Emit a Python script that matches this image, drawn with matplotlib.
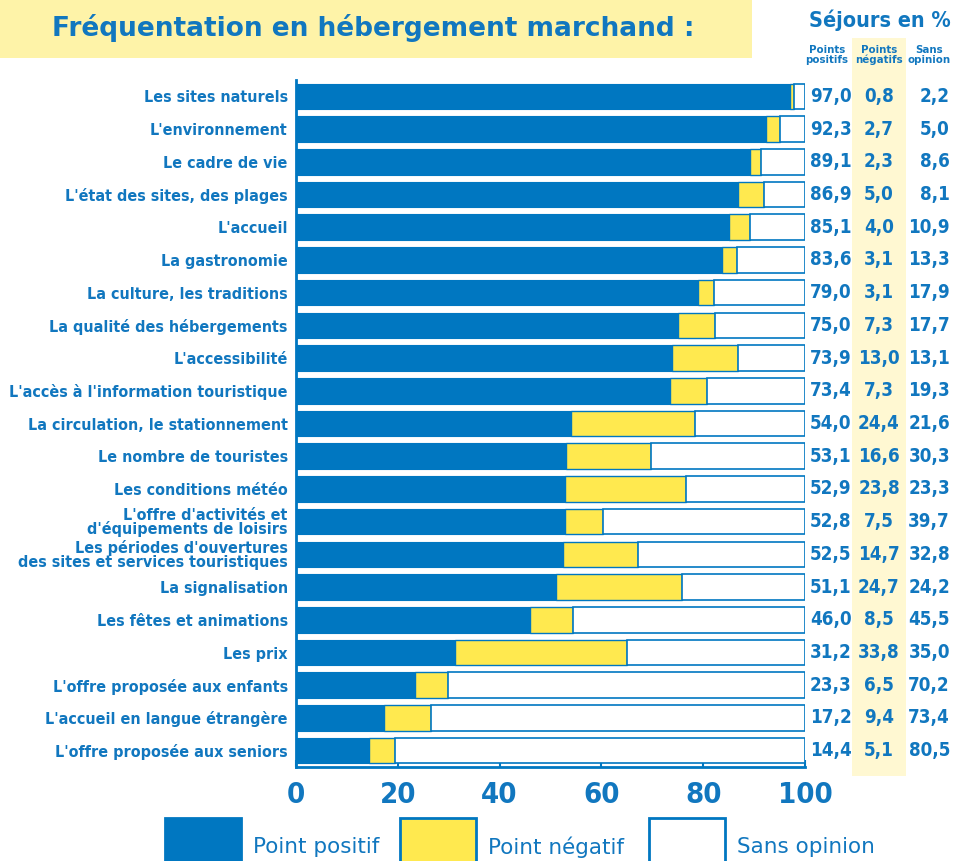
import matplotlib
matplotlib.use("Agg")
import matplotlib.pyplot as plt
from matplotlib.patches import Rectangle
from matplotlib.transforms import blended_transform_factory
import numpy as np

categories = [
    "Les sites naturels", "L'environnement", "Le cadre de vie",
    "L'état des sites, des plages", "L'accueil", "La gastronomie",
    "La culture, les traditions", "La qualité des hébergements",
    "L'accessibilité", "L'accès à l'information touristique",
    "La circulation, le stationnement", "Le nombre de touristes",
    "Les conditions météo", "L'offre d'activités et\nd'équipements de loisirs",
    "Les périodes d'ouvertures\ndes sites et services touristiques",
    "La signalisation", "Les fêtes et animations", "Les prix",
    "L'offre proposée aux enfants", "L'accueil en langue étrangère",
    "L'offre proposée aux seniors",
]
positifs = [97.0, 92.3, 89.1, 86.9, 85.1, 83.6, 79.0, 75.0, 73.9, 73.4, 54.0,
            53.1, 52.9, 52.8, 52.5, 51.1, 46.0, 31.2, 23.3, 17.2, 14.4]
negatifs = [0.8, 2.7, 2.3, 5.0, 4.0, 3.1, 3.1, 7.3, 13.0, 7.3, 24.4,
            16.6, 23.8, 7.5, 14.7, 24.7, 8.5, 33.8, 6.5, 9.4, 5.1]
sans_opinion = [2.2, 5.0, 8.6, 8.1, 10.9, 13.3, 17.9, 17.7, 13.1, 19.3, 21.6,
                30.3, 23.3, 39.7, 32.8, 24.2, 45.5, 35.0, 70.2, 73.4, 80.5]
xticks = [0, 20, 40, 60, 80, 100]

BLUE = "#0077C1"
TXT = "#1177BF"
YEL = "#FFE94F"
TITLEBG = "#FEF3A8"
BAND = "#FFF8D2"

plt.rcParams['font.family'] = ['DejaVu Sans']
FS = dict(fontstretch='condensed', fontweight='bold', color=TXT)

fig = plt.figure(figsize=(9.54, 8.61), dpi=100)
W, H = 954, 861

# title box and negatifs band (drawn under the axes)
fig.patches.append(Rectangle((0, 1 - 58 / H), 752 / W, 58 / H, transform=fig.transFigure,
                             facecolor=TITLEBG, edgecolor='none', zorder=0))
fig.patches.append(Rectangle((852 / W, 1 - 776 / H), 54 / W, (776 - 38) / H, transform=fig.transFigure,
                             facecolor=BAND, edgecolor='none', zorder=0))

ax = fig.add_axes([296 / W, 1 - 767 / H, (805 - 296) / W, (767 - 80) / H])
ax.set_zorder(2)
ax.patch.set_alpha(0)

y = np.arange(len(categories))
pos = np.array(positifs)
neg = np.array(negatifs)
so = np.array(sans_opinion)
h = 0.78
ax.barh(y, pos, height=h, color=BLUE, edgecolor=BLUE, linewidth=0.8, zorder=3)
ax.barh(y, neg, left=pos, height=h, color=YEL, edgecolor=BLUE, linewidth=1.0, zorder=3)
ax.barh(y, so, left=pos + neg, height=h, color="white", edgecolor=BLUE, linewidth=1.2, zorder=3)

ax.set_xlim(0, 100)
ax.set_ylim(20.5, -0.5)
ax.set_yticks(y)
ax.set_yticklabels(categories, fontsize=11.5, linespacing=0.9, **FS)
ax.tick_params(axis='y', length=0, pad=6)
ax.set_xticks(xticks)
ax.set_xticklabels([str(t) for t in xticks], fontsize=21, **FS)
ax.tick_params(axis='x', direction='in', length=5, width=1.5, color=BLUE, pad=10)
for s in ['top', 'right']:
    ax.spines[s].set_visible(False)
for s in ['left', 'bottom']:
    ax.spines[s].set_color(BLUE)
    ax.spines[s].set_linewidth(2)

fig.text(373 / W, 1 - 28 / H, "Fréquentation en hébergement marchand :", ha='center', va='center',
         fontsize=19, fontweight='bold', color=TXT, zorder=3)

fig.text(880 / W, 1 - 20 / H, "Séjours en %", ha='center', va='center', fontsize=15.5, zorder=3, **FS)
for xx, t in [(827, "Points\npositifs"), (879, "Points\nnégatifs"), (929, "Sans\nopinion")]:
    fig.text(xx / W, 1 - 55 / H, t, ha='center', va='center', fontsize=8.2, linespacing=0.95, zorder=3, **FS)

tr = blended_transform_factory(fig.transFigure, ax.transData)
NF = 13.5
for i in range(len(categories)):
    ax.text(831 / W, i, f"{positifs[i]:.1f}".replace('.', ','), transform=tr, ha='center', va='center',
            fontsize=NF, clip_on=False, **FS)
    ax.text(879 / W, i, f"{negatifs[i]:.1f}".replace('.', ','), transform=tr, ha='center', va='center',
            fontsize=NF, clip_on=False, **FS)
    ax.text(950 / W, i, f"{sans_opinion[i]:.1f}".replace('.', ','), transform=tr, ha='right', va='center',
            fontsize=NF, clip_on=False, **FS)

# legend
leg = [(165, BLUE, BLUE, "Point positif"), (400, YEL, BLUE, "Point négatif"),
       (649, "white", BLUE, "Sans opinion")]
for x0, fc, ec, lab in leg:
    fig.patches.append(Rectangle((x0 / W, -10 / H), 76 / W, (10 + 43) / H, transform=fig.transFigure,
                                 facecolor=fc, edgecolor=ec, linewidth=2))
    fig.text((x0 + 88) / W, 1 - 847 / H, lab, ha='left', va='center', fontsize=15.5, color=TXT)

fig.savefig("out.png", dpi=100)
